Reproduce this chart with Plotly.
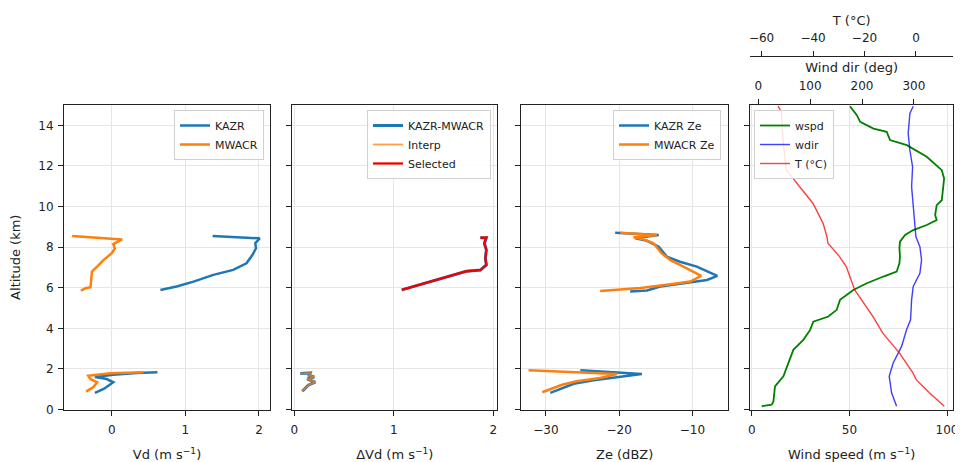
import plotly.graph_objects as go

# ---------------- data ----------------
# Panel 1: Doppler velocity (m/s) vs altitude (km); None separates layers
kazr_vd  = [-0.23, -0.11, 0.02, -0.07, -0.23, 0.02, 0.34, 0.62, None,
            0.66, 0.88, 1.11, 1.38, 1.65, 1.83, 1.91, 1.96, 1.95, 2.01, 1.37]
kazr_alt = [0.82, 1.01, 1.34, 1.50, 1.60, 1.71, 1.80, 1.83, None,
            5.89, 6.06, 6.30, 6.63, 6.88, 7.20, 7.61, 7.94, 8.19, 8.43, 8.55]
mwacr_vd  = [-0.35, -0.25, -0.20, -0.29, -0.32, -0.02, 0.43, None,
             -0.42, -0.36, -0.29, -0.28, -0.27, -0.20, -0.11, 0.00, 0.04, 0.02, 0.14, -0.54]
mwacr_alt = [0.88, 1.11, 1.34, 1.50, 1.66, 1.78, 1.83, None,
             5.86, 5.97, 6.02, 6.30, 6.80, 7.04, 7.37, 7.70, 7.94, 8.15, 8.38, 8.55]

# Panel 2: delta Vd
dvd      = [0.08, 0.10, 0.14, 0.21, 0.13, 0.20, 0.15, 0.16, 0.06, None,
            1.08, 1.26, 1.53, 1.73, 1.87, 1.93, 1.92, 1.93, 1.91, 1.93, 1.87]
dvd_alt  = [0.90, 1.00, 1.20, 1.35, 1.50, 1.60, 1.68, 1.80, 1.77, None,
            5.89, 6.14, 6.50, 6.81, 6.87, 7.12, 7.45, 7.86, 8.19, 8.46, 8.46]
interp_dvd = [0.08, 0.10, 0.14, 0.21, 0.13, 0.20, 0.15, 0.16, 0.06]
interp_alt = [0.90, 1.00, 1.20, 1.35, 1.50, 1.60, 1.68, 1.80, 1.77]
sel_dvd  = [1.08, 1.26, 1.53, 1.73, 1.87, 1.93, 1.92, 1.93, 1.91, 1.93, 1.87]
sel_alt  = [5.89, 6.14, 6.50, 6.81, 6.87, 7.12, 7.45, 7.86, 8.19, 8.46, 8.46]

# Panel 3: reflectivity (dBZ)
kazr_ze  = [-29.4, -27.6, -26.2, -23.5, -19.9, -16.9, -25.3, None,
            -18.5, -16.2, -14.4, -10.8, -8.0, -6.6, -7.35, -9.4, -11.7, -13.5, -14.6, -16.2, -17.8, -14.6, -20.55]
kazr_ze_alt = [0.82, 1.06, 1.27, 1.44, 1.60, 1.75, 1.93, None,
               5.81, 5.86, 6.06, 6.22, 6.38, 6.58, 6.71, 7.04, 7.28, 7.53, 8.02, 8.31, 8.43, 8.60, 8.71]
mwacr_ze = [-30.5, -28.95, -27.8, -25.8, -22.6, -20.3, -32.37, None,
            -22.6, -17.1, -13.5, -10.3, -8.8, -9.86, -11.7, -13.0, -14.2, -15.3, -16.7, -18.05, -14.86, -19.86]
mwacr_ze_alt = [0.85, 1.06, 1.22, 1.39, 1.55, 1.75, 1.93, None,
                5.84, 5.98, 6.14, 6.30, 6.58, 6.79, 7.12, 7.36, 7.69, 8.19, 8.38, 8.48, 8.60, 8.71]

# Panel 4: sounding
wspd = [5.1, 10.2, 11.1, 11.9, 16.2, 18.7, 21.3, 26.4, 29.9, 31.5, 39.2, 43.5, 45.2, 52.0,
        58.9, 67.4, 74.2, 75.6, 75.9, 75.6, 75.9, 78.5, 82.7, 89.6, 94.7, 93.9, 94.7, 97.3,
        97.8, 98.5, 97.3, 89.6, 79.4, 70.8, 69.1, 62.3, 55.5, 53.8, 50.3]
wspd_alt = [0.16, 0.24, 0.40, 1.14, 1.64, 2.29, 2.94, 3.43, 3.92, 4.33, 4.58, 4.91, 5.40, 5.89,
            6.22, 6.55, 6.79, 7.20, 7.53, 7.94, 8.27, 8.60, 8.84, 9.09, 9.33, 9.58, 10.07, 10.31,
            10.73, 11.38, 11.79, 12.45, 13.02, 13.27, 13.68, 13.84, 14.17, 14.50, 14.94]
wdir = [266.7, 257.0, 252.4, 260.1, 276.3, 285.9, 293.6, 295.6, 298.7, 311.6, 314.8, 311.6,
        303.9, 302.0, 298.7, 295.6, 297.5, 292.3, 289.0, 292.3, 298.7]
wdir_alt = [0.16, 0.82, 1.64, 2.29, 3.11, 3.93, 4.42, 5.40, 6.06, 6.71, 7.37, 8.02,
            8.51, 9.00, 9.99, 10.97, 11.95, 12.77, 13.60, 14.58, 14.94]
temp = [11.0, 5.2, 0.08, -1.2, -6.4, -12.9, -16.7, -19.3, -23.8, -27.1, -29.7, -34.2,
        -34.6, -36.1, -40.0, -45.2, -50.3, -51.0, -51.9, -52.3, -53.6]
temp_alt = [0.16, 0.82, 1.47, 1.80, 2.78, 3.76, 4.58, 5.07, 5.89, 7.04, 7.53, 8.19,
            8.51, 9.17, 10.15, 10.97, 11.79, 12.45, 13.60, 14.66, 14.94]

# ---------------- figure ----------------
BLUE, ORANGE = "#1f77b4", "#ff7f0e"
fig = go.Figure()

fig.add_trace(go.Scatter(x=kazr_vd, y=kazr_alt, name="KAZR", mode="lines",
                         line=dict(color=BLUE, width=2.5), xaxis="x", yaxis="y", legend="legend"))
fig.add_trace(go.Scatter(x=mwacr_vd, y=mwacr_alt, name="MWACR", mode="lines",
                         line=dict(color=ORANGE, width=2.5), xaxis="x", yaxis="y", legend="legend"))

fig.add_trace(go.Scatter(x=dvd, y=dvd_alt, name="KAZR-MWACR", mode="lines",
                         line=dict(color=BLUE, width=3), xaxis="x2", yaxis="y2", legend="legend2"))
fig.add_trace(go.Scatter(x=interp_dvd, y=interp_alt, name="Interp", mode="lines", opacity=0.75,
                         line=dict(color=ORANGE, width=1.8), xaxis="x2", yaxis="y2", legend="legend2"))
fig.add_trace(go.Scatter(x=sel_dvd, y=sel_alt, name="Selected", mode="lines",
                         line=dict(color="#f00000", width=2.3), xaxis="x2", yaxis="y2", legend="legend2"))

fig.add_trace(go.Scatter(x=kazr_ze, y=kazr_ze_alt, name="KAZR Ze", mode="lines",
                         line=dict(color=BLUE, width=2.5), xaxis="x3", yaxis="y3", legend="legend3"))
fig.add_trace(go.Scatter(x=mwacr_ze, y=mwacr_ze_alt, name="MWACR Ze", mode="lines",
                         line=dict(color=ORANGE, width=2.5), xaxis="x3", yaxis="y3", legend="legend3"))

fig.add_trace(go.Scatter(x=wspd, y=wspd_alt, name="wspd", mode="lines",
                         line=dict(color="green", width=1.8), xaxis="x4", yaxis="y4", legend="legend4"))
fig.add_trace(go.Scatter(x=wdir, y=wdir_alt, name="wdir", mode="lines", opacity=0.75,
                         line=dict(color="blue", width=1.4), xaxis="x5", yaxis="y4", legend="legend4"))
fig.add_trace(go.Scatter(x=temp, y=temp_alt, name="T (°C)", mode="lines", opacity=0.75,
                         line=dict(color="red", width=1.4), xaxis="x6", yaxis="y4", legend="legend4"))

OFF = 8  # page body margin
W, H = 963 - OFF, 462 - OFF


def px(x):
    return (x - OFF) / W


def py(y):
    return 1 - (y - OFF) / H


ytop, ybot = py(105), py(409.5)
doms = [(64, 270), (292.3, 497.3), (521, 728.3), (750, 953.3)]
doms = [[px(a), px(b)] for a, b in doms]

FONT = "DejaVu Sans"
common = dict(showline=True, linecolor="#222", linewidth=1, mirror=True, automargin=False,
              ticks="outside", ticklen=5, tickcolor="#222",
              showgrid=True, gridcolor="#e6e6e6", gridwidth=1, zeroline=False,
              tickfont=dict(size=12, family=FONT, color="#222"))
tfont = dict(size=13, family=FONT, color="#222")

xr = [[-0.65, 2.15], [-0.02, 2.04], [-33.4, -5.1], [-0.9, 103.2]]
xt = ["Vd (m s<sup>−1</sup>)", "ΔVd (m s<sup>−1</sup>)", "Ze (dBZ)", "Wind speed (m s<sup>−1</sup>)"]
xdt = [1, 1, 10, 50]
for i in range(4):
    sfx = "" if i == 0 else str(i + 1)
    fig.layout["xaxis" + sfx] = dict(common, domain=doms[i], range=xr[i], dtick=xdt[i],
                                     ticklabelstandoff=4,
                                     anchor="y" + sfx, title=dict(text=xt[i], font=tfont, standoff=15))
    ya = dict(common, domain=[ybot, ytop], range=[0, 15], dtick=2, anchor="x" + sfx,
              ticklabelstandoff=2)
    if i == 0:
        ya["title"] = dict(text="Altitude (km)", font=tfont, standoff=14)
    else:
        ya["showticklabels"] = False
        ya["matches"] = "y"
    fig.layout["yaxis" + sfx] = ya

twin = dict(showline=True, linecolor="#222", linewidth=1, ticks="outside", ticklen=5,
            tickcolor="#222", showgrid=False, zeroline=False, automargin=False,
            ticklabelstandoff=4,
            tickfont=dict(size=12, family=FONT, color="#222"))
fig.layout["xaxis5"] = dict(twin, overlaying="x4", side="top", anchor="y4", range=[-16, 376],
                            dtick=100, title=dict(text="Wind dir (deg)", font=tfont, standoff=3))
fig.layout["xaxis6"] = dict(twin, overlaying="x4", side="top", anchor="free", position=py(56),
                            range=[-64.5, 14.5], dtick=20,
                            title=dict(text="T (°C)", font=tfont, standoff=1))

leg = dict(bgcolor="rgba(255,255,255,0.85)", bordercolor="#d0d0d0", borderwidth=1,
           font=dict(size=11, family=FONT, color="#222"), xanchor="right", yanchor="top",
           itemwidth=30, tracegroupgap=0)
fig.update_layout(
    width=W, height=H, margin=dict(l=0, r=0, t=0, b=0, autoexpand=False),
    plot_bgcolor="white", paper_bgcolor="white",
    font=dict(family=FONT, color="#222"),
    legend=dict(leg, x=px(264), y=py(110)),
    legend2=dict(leg, x=px(491), y=py(110)),
    legend3=dict(leg, x=px(721), y=py(110)),
    legend4=dict(leg, xanchor="left", x=px(754), y=py(110)),
    showlegend=True,
)

fig.write_html("out.html")
